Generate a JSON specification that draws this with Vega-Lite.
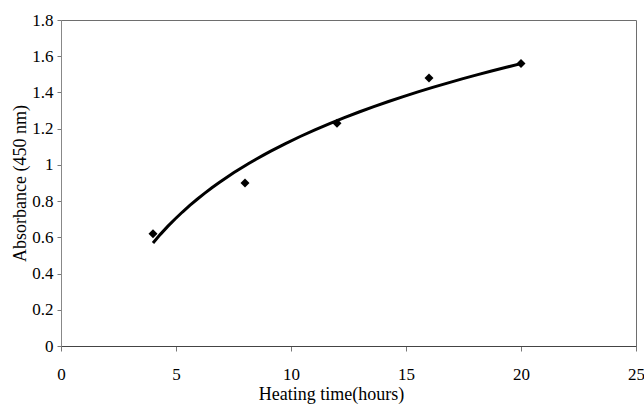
{
  "$schema": "https://vega.github.io/schema/vega-lite/v6.json",
  "width": 575,
  "height": 326,
  "autosize": {"type": "none"},
  "padding": {"left": 61, "top": 20, "right": 8, "bottom": 60},
  "background": "white",
  "config": {
    "view": {"stroke": "#6e6e6e", "strokeWidth": 1},
    "font": "Liberation Serif"
  },
  "data": {
    "values": [
      {"time": 4, "absorbance": 0.62},
      {"time": 8, "absorbance": 0.90},
      {"time": 12, "absorbance": 1.23},
      {"time": 16, "absorbance": 1.48},
      {"time": 20, "absorbance": 1.56}
    ]
  },
  "encoding": {
    "x": {
      "field": "time",
      "type": "quantitative",
      "scale": {"domain": [0, 25], "nice": false, "zero": false},
      "axis": {
        "title": "Heating time(hours)",
        "values": [0, 5, 10, 15, 20, 25],
        "grid": false,
        "domainColor": "#444",
        "tickColor": "#777",
        "tickSize": 5,
        "labelPadding": 23,
        "labelFont": "Liberation Serif",
        "labelFontSize": 17,
        "labelColor": "black",
        "labelBaseline": "middle",
        "labelFlush": false,
        "titleFont": "Liberation Serif",
        "titleFontSize": 18,
        "titleFontWeight": "normal",
        "titleColor": "black",
        "titlePadding": 3,
        "titleX": 270
      }
    },
    "y": {
      "field": "absorbance",
      "type": "quantitative",
      "scale": {"domain": [0, 1.8], "nice": false},
      "axis": {
        "title": "Absorbance (450 nm)",
        "values": [0, 0.2, 0.4, 0.6, 0.8, 1, 1.2, 1.4, 1.6, 1.8],
        "format": "~g",
        "grid": false,
        "domainColor": "#888",
        "tickColor": "#777",
        "tickSize": 4,
        "labelPadding": 4,
        "labelFont": "Liberation Serif",
        "labelFontSize": 17,
        "labelColor": "black",
        "labelFlush": false,
        "titleFont": "Liberation Serif",
        "titleFontSize": 18,
        "titleFontWeight": "normal",
        "titleColor": "black",
        "titleX": -41,
        "titleBaseline": "middle"
      }
    }
  },
  "layer": [
    {
      "transform": [
        {"regression": "absorbance", "on": "time", "method": "log", "extent": [4, 20]}
      ],
      "mark": {"type": "line", "color": "black", "strokeWidth": 3}
    },
    {
      "mark": {"type": "point", "shape": "diamond", "filled": true, "color": "black", "size": 80, "opacity": 1}
    }
  ]
}
